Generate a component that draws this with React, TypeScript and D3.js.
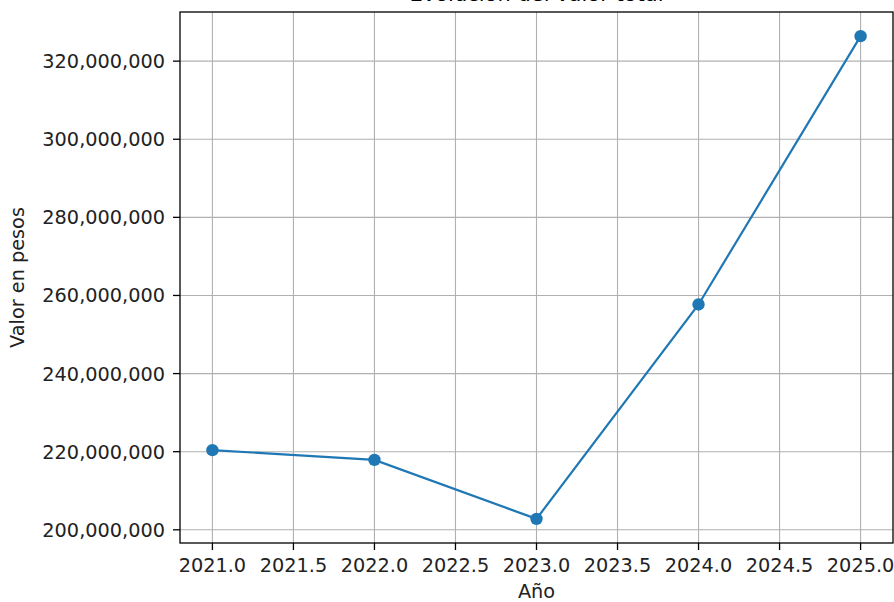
import React from "react";
import * as d3 from "d3";

const years = [2021, 2022, 2023, 2024, 2025];
const values = [220400000, 217900000, 202800000, 257700000, 326400000];
const xTicks = [2021.0, 2021.5, 2022.0, 2022.5, 2023.0, 2023.5, 2024.0, 2024.5, 2025.0];
const yTicks = [200000000, 220000000, 240000000, 260000000, 280000000, 300000000, 320000000];
const title = "Evolución del valor total";
const xLabel = "Año";
const yLabel = "Valor en pesos";

const W = 894, H = 602;
const M = { left: 180, right: 893, top: 12, bottom: 543 };

export default function App() {
  const xMin = d3.min(years)!, xMax = d3.max(years)!;
  const yMin = d3.min(values)!, yMax = d3.max(values)!;
  const xPad = (xMax - xMin) * 0.05, yPad = (yMax - yMin) * 0.05;
  const x = d3.scaleLinear().domain([xMin - xPad, xMax + xPad]).range([M.left, M.right]);
  const y = d3.scaleLinear().domain([yMin - yPad, yMax + yPad]).range([M.bottom, M.top]);
  const line = d3.line<number>().x((_, i) => x(years[i])).y((d) => y(d));
  const fmt = d3.format(",");
  const font = "DejaVu Sans";
  const fs = 19.3;
  return (
    <svg width={W} height={H} style={{ position: "absolute", left: 0, top: 0, background: "#fff" }} fontFamily={font}>
      <text x={(M.left + M.right) / 2} y={1} fontSize={21} textAnchor="middle" fill="#000">{title}</text>
      {xTicks.map((t) => (
        <line key={"gx" + t} x1={x(t)} x2={x(t)} y1={M.top} y2={M.bottom} stroke="#b0b0b0" strokeWidth={1.1} />
      ))}
      {yTicks.map((t) => (
        <line key={"gy" + t} x1={M.left} x2={M.right} y1={y(t)} y2={y(t)} stroke="#b0b0b0" strokeWidth={1.1} />
      ))}
      <path d={line(values) || ""} fill="none" stroke="#1f77b4" strokeWidth={2.2} />
      {values.map((v, i) => (
        <circle key={i} cx={x(years[i])} cy={y(v)} r={6.2} fill="#1f77b4" />
      ))}
      <rect x={M.left} y={M.top} width={M.right - M.left} height={M.bottom - M.top} fill="none" stroke="#000" strokeWidth={1.3} />
      {xTicks.map((t) => (
        <g key={"tx" + t}>
          <line x1={x(t)} x2={x(t)} y1={M.bottom} y2={M.bottom + 7} stroke="#000" strokeWidth={1.3} />
          <text x={x(t)} y={571.5} fontSize={fs} textAnchor="middle" fill="#222">{t.toFixed(1)}</text>
        </g>
      ))}
      {yTicks.map((t) => (
        <g key={"ty" + t}>
          <line x1={M.left - 7} x2={M.left} y1={y(t)} y2={y(t)} stroke="#000" strokeWidth={1.3} />
          <text x={M.left - 15} y={y(t)} dy="0.36em" fontSize={fs} textAnchor="end" fill="#222">{fmt(t)}</text>
        </g>
      ))}
      <text x={(M.left + M.right) / 2} y={598} fontSize={fs} textAnchor="middle" fill="#222">{xLabel}</text>
      <text transform={`translate(24, ${(M.top + M.bottom) / 2}) rotate(-90)`} fontSize={fs} textAnchor="middle" fill="#222">{yLabel}</text>
    </svg>
  );
}
